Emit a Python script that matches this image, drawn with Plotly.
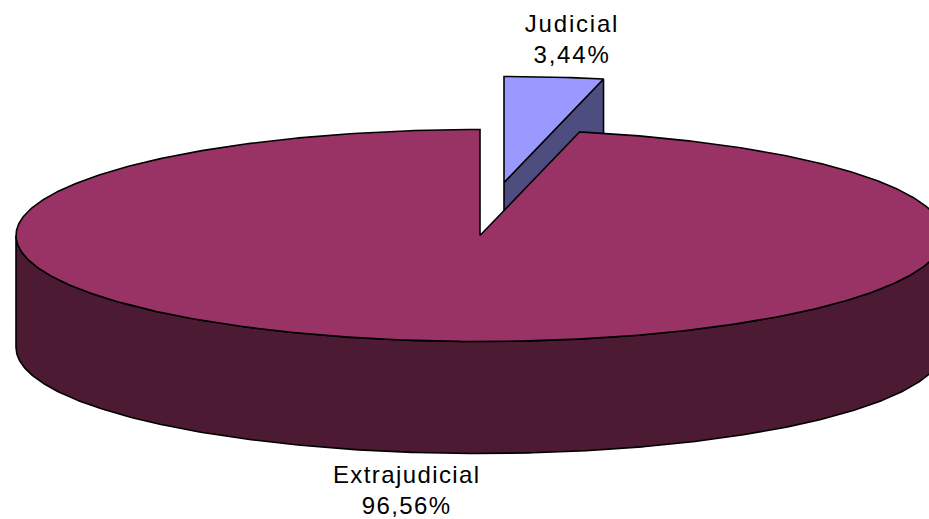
import numpy as np
import plotly.graph_objects as go

categories = ["Judicial", "Extrajudicial"]
shares = [3.44, 96.56]
share_labels = ["3,44%", "96,56%"]

W, H = 929, 519
CX, CY, RX, RY = 480, 235.5, 464, 106
DEPTH = 112
EXPLODE = (24, -53)
TOP = ["#9999FF", "#993366"]
SIDE = ["#4D4D80", "#4D1A33"]
EDGE = "#000000"

ends = np.cumsum(shares) / sum(shares) * 2 * np.pi
starts = np.concatenate(([0], ends[:-1]))


def rim(a0, a1, dx=0.0, dy=0.0):
    t = np.linspace(a0, a1, max(int((a1 - a0) * 120), 2))
    return CX + dx + RX * np.sin(t), CY + dy - RY * np.cos(t)


def poly(fig, x, y, color):
    fig.add_trace(go.Scatter(
        x=list(x), y=list(y), mode="lines", fill="toself", fillcolor=color,
        line=dict(color=EDGE, width=1.6), hoverinfo="skip", showlegend=False,
    ))


fig = go.Figure()

# exploded small slice: side wall behind, then top
a0, a1 = starts[0], ends[0]
ex, ey = EXPLODE
rx_, ry_ = rim(a0, a1, ex, ey)
poly(fig,
     [CX + ex, rx_[-1], rx_[-1], CX + ex, CX + ex],
     [CY + ey, ry_[-1], ry_[-1] + DEPTH, CY + ey + DEPTH, CY + ey],
     SIDE[0])
poly(fig, [CX + ex, *rx_, CX + ex], [CY + ey, *ry_, CY + ey], TOP[0])

# large slice: outer wall of the visible front half, then top
a0, a1 = starts[1], ends[1]
fx, fy = rim(np.pi / 2, 3 * np.pi / 2)
poly(fig, [*fx, *fx[::-1], fx[0]], [*fy, *(fy[::-1] + DEPTH), fy[0]], SIDE[1])
rx_, ry_ = rim(a0, a1)
poly(fig, [CX, *rx_, CX], [CY, *ry_, CY], TOP[1])

font = dict(family="Liberation Sans, Arial, sans-serif", size=24, color="#000000")
fig.add_annotation(x=571.5, y=39, text=f"{categories[0]}<br>{share_labels[0]}",
                   showarrow=False, font=font, align="center")
fig.add_annotation(x=406, y=490, text=f"{categories[1]}<br>{share_labels[1]}",
                   showarrow=False, font=font, align="center")

fig.update_layout(
    width=W, height=H, margin=dict(l=0, r=0, t=0, b=0),
    paper_bgcolor="white", plot_bgcolor="white",
    xaxis=dict(range=[0, W], visible=False, fixedrange=True),
    yaxis=dict(range=[H, 0], visible=False, fixedrange=True),
)
post = """
document.body.style.margin = '0';
document.body.style.overflow = 'hidden';
document.querySelectorAll('.annotation-text').forEach(function (t, i) {
  t.style.letterSpacing = i === 0 ? '1.8px' : '1.4px';
});
"""
fig.write_html("out.html", config=dict(displayModeBar=False), post_script=post)
